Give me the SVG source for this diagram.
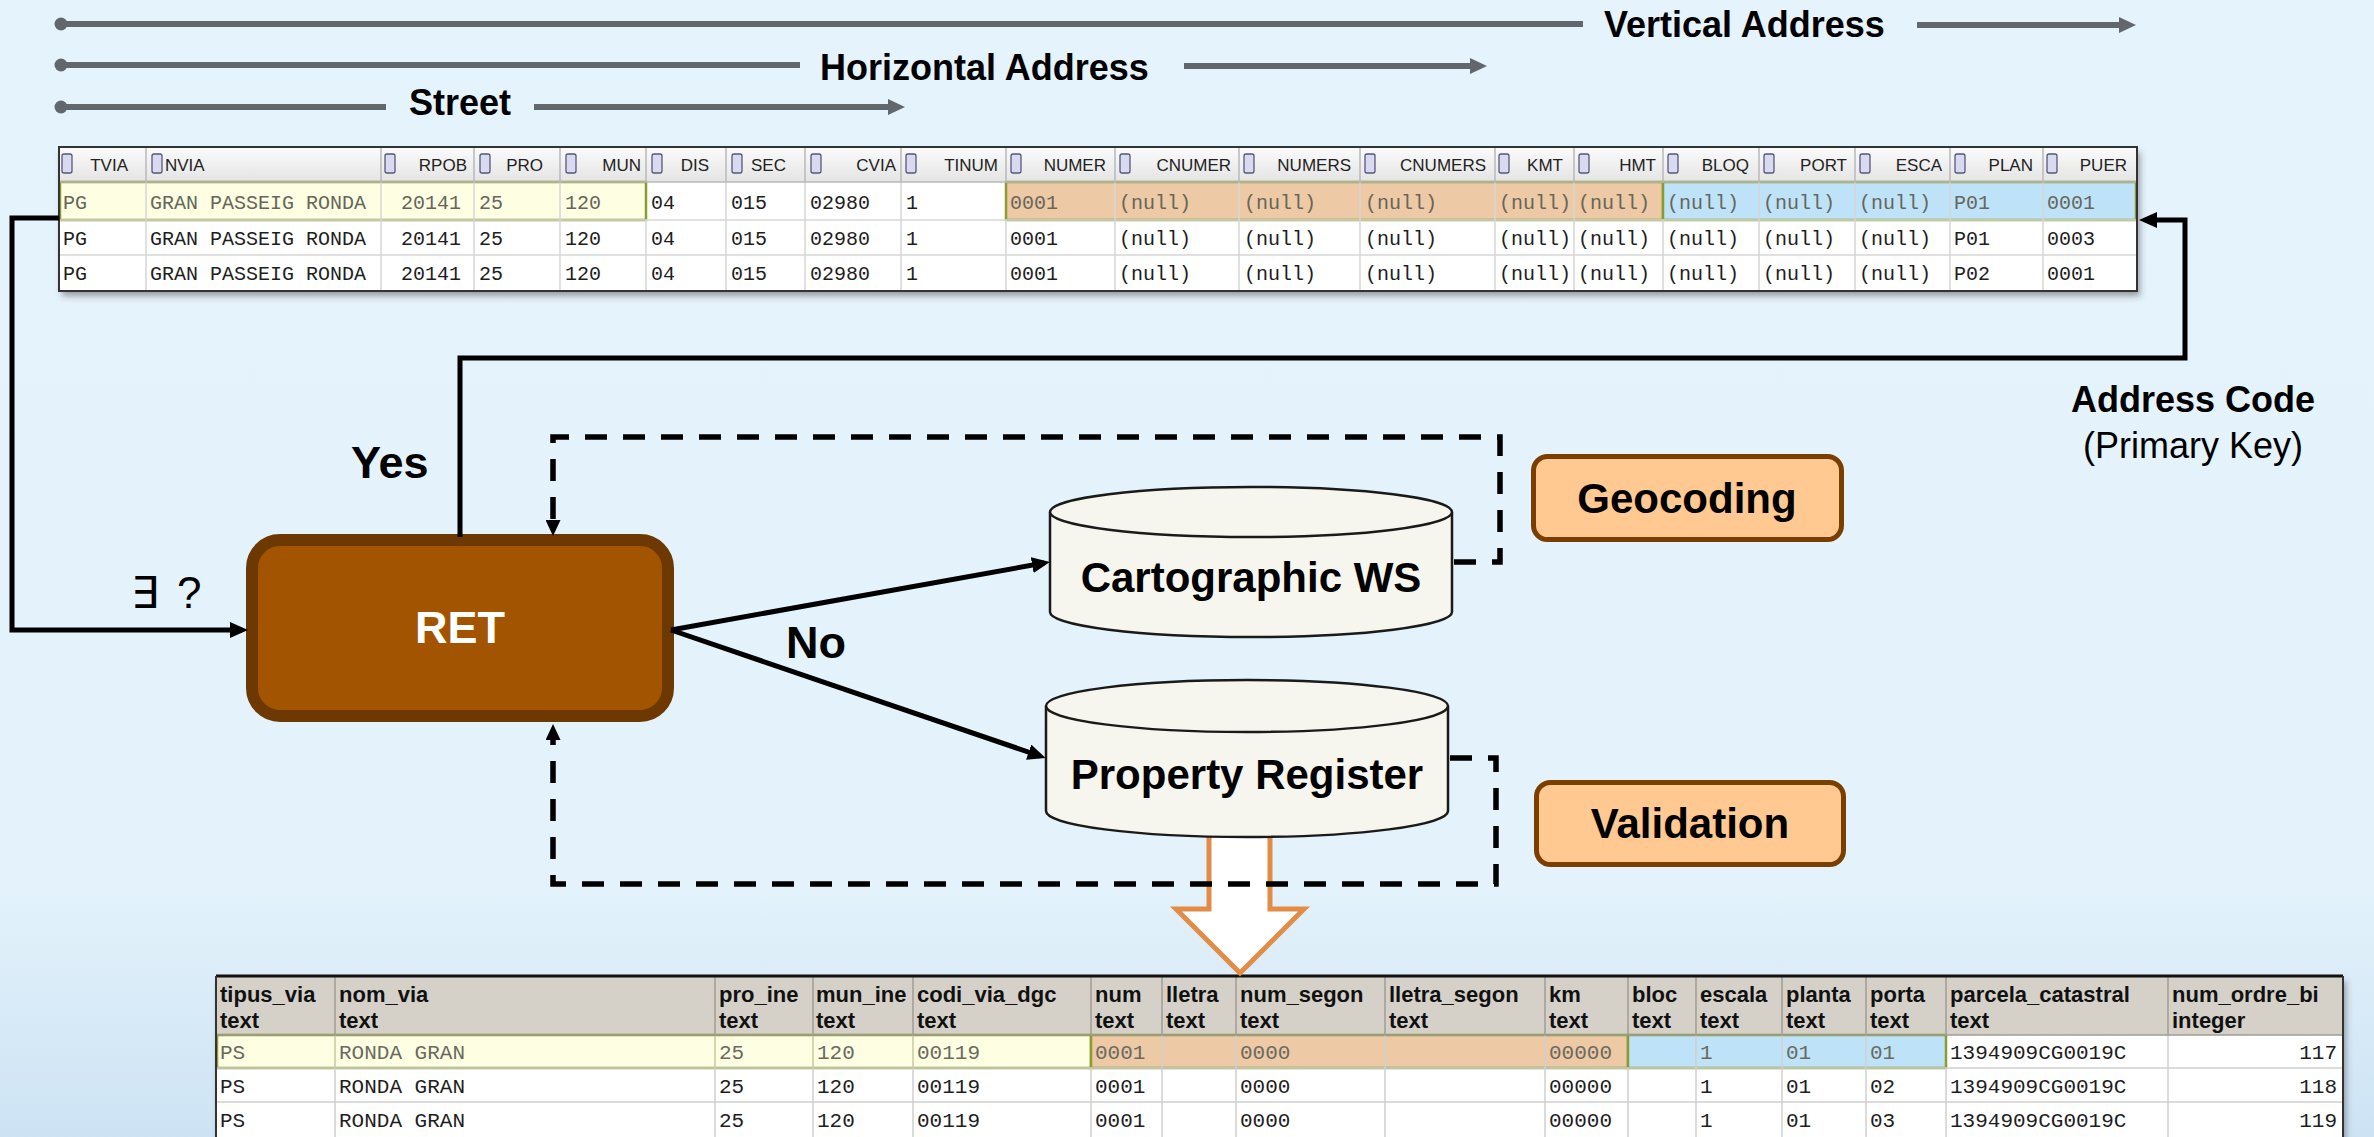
<svg xmlns="http://www.w3.org/2000/svg" width="2374" height="1137" viewBox="0 0 2374 1137">
<defs>
<linearGradient id="bg" x1="0" y1="0" x2="0" y2="1">
<stop offset="0" stop-color="#E5F3FC"/><stop offset="0.78" stop-color="#E3F2FB"/><stop offset="1" stop-color="#CDE3F4"/>
</linearGradient>
<linearGradient id="hdrTop" x1="0" y1="0" x2="0" y2="1">
<stop offset="0" stop-color="#FBFBFB"/><stop offset="1" stop-color="#E4E4E4"/>
</linearGradient>
<filter id="shadow" x="-2%" y="-10%" width="104%" height="130%">
<feDropShadow dx="3" dy="5" stdDeviation="3" flood-color="#333" flood-opacity="0.45"/>
</filter>
<marker id="ah" markerUnits="userSpaceOnUse" markerWidth="18" markerHeight="16" refX="12" refY="8" orient="auto">
<path d="M0,0 L18,8 L0,16 z" fill="#000"/>
</marker>
<marker id="ahs" markerUnits="userSpaceOnUse" markerWidth="16" markerHeight="15" refX="10" refY="7.5" orient="auto">
<path d="M0,0 L16,7.5 L0,15 z" fill="#000"/>
</marker>
<marker id="ahg" markerUnits="userSpaceOnUse" markerWidth="17" markerHeight="16" refX="6" refY="8" orient="auto">
<path d="M0,0 L17,8 L0,16 z" fill="#61676C"/>
</marker>
<style>
.lbl{font-family:"Liberation Sans",Arial,sans-serif;font-weight:bold;font-size:36px;fill:#000}
.reg{font-family:"Liberation Sans",Arial,sans-serif;font-size:36px;fill:#000}
.big{font-family:"Liberation Sans",Arial,sans-serif;font-weight:bold;font-size:45px;fill:#000}
.node{font-family:"Liberation Sans",Arial,sans-serif;font-weight:bold;font-size:42px;fill:#000;text-anchor:middle}
.ret{font-family:"Liberation Sans",Arial,sans-serif;font-weight:bold;font-size:45px;fill:#fff;text-anchor:middle}
.gl{stroke:#61676C;stroke-width:6;fill:none}
.dot{fill:#61676C}
.th{font-family:"Liberation Sans",Arial,sans-serif;font-size:17px;fill:#222;text-anchor:end}
.ico{fill:#D9D9EF;stroke:#56567C;stroke-width:1.3}
.m{font-family:"Liberation Mono","Courier New",monospace;font-size:20px;fill:#1e1e1e}
.mh{font-family:"Liberation Mono","Courier New",monospace;font-size:20px;fill:#66665a}
.bm{font-family:"Liberation Mono","Courier New",monospace;font-size:21px;fill:#1e1e1e}
.bmh{font-family:"Liberation Mono","Courier New",monospace;font-size:21px;fill:#6a6a60}
.bh{font-family:"Liberation Sans",Arial,sans-serif;font-weight:bold;font-size:22px;fill:#111}
.grid{stroke:#D6D6D6;stroke-width:1.5}
.bgrid{stroke:#CFCFCF;stroke-width:1.5}
.hsep{stroke:#B8B8B8;stroke-width:1.5}
.bhsep{stroke:#A09C94;stroke-width:1.5}
.hl{stroke:#8A9C30;stroke-width:2.5}
.solid{fill:none;stroke:#000;stroke-width:5}
.dash{fill:none;stroke:#000;stroke-width:5.5;stroke-dasharray:22 16}
.cyl{fill:#F6F6EE;stroke:#1a1a1a;stroke-width:2.5}
.task{fill:#FFC991;stroke:#7A3F00;stroke-width:5}
</style>
</defs>

<rect x="0" y="0" width="2374" height="1137" fill="url(#bg)"/>

<!-- Top range labels -->
<g id="range-vertical">
<circle class="dot" cx="61" cy="24" r="6.5"/>
<line class="gl" x1="61" y1="24" x2="1583" y2="24"/>
<text class="lbl" x="1604" y="37">Vertical Address</text>
<line class="gl" x1="1917" y1="25" x2="2125" y2="25" marker-end="url(#ahg)"/>
</g>
<g id="range-horizontal">
<circle class="dot" cx="61" cy="65" r="6.5"/>
<line class="gl" x1="61" y1="65" x2="800" y2="65"/>
<text class="lbl" x="820" y="80">Horizontal Address</text>
<line class="gl" x1="1184" y1="66" x2="1476" y2="66" marker-end="url(#ahg)"/>
</g>
<g id="range-street">
<circle class="dot" cx="61" cy="107" r="6.5"/>
<line class="gl" x1="61" y1="107" x2="386" y2="107"/>
<text class="lbl" x="409" y="115">Street</text>
<line class="gl" x1="534" y1="107" x2="894" y2="107" marker-end="url(#ahg)"/>
</g>

<!-- Top table -->
<g id="address-table">
<rect x="59" y="147" width="2078" height="144" fill="#fff" filter="url(#shadow)"/>
<rect x="59" y="147" width="2078" height="35" fill="url(#hdrTop)"/>
<rect class="hl" x="60" y="182" width="586" height="38" fill="#FEFEE2"/>
<rect class="hl" x="1006" y="182" width="657" height="38" fill="#EDC9A5"/>
<rect class="hl" x="1663" y="182" width="473" height="38" fill="#BEE3F8"/>
<g class="grid">
<line x1="59" y1="255" x2="2137" y2="255"/>
<line x1="59" y1="220" x2="2137" y2="220"/>
<line x1="146" y1="182" x2="146" y2="291"/><line x1="381" y1="182" x2="381" y2="291"/>
<line x1="474" y1="182" x2="474" y2="291"/><line x1="560" y1="182" x2="560" y2="291"/>
<line x1="646" y1="220" x2="646" y2="291"/><line x1="726" y1="182" x2="726" y2="291"/>
<line x1="805" y1="182" x2="805" y2="291"/><line x1="901" y1="182" x2="901" y2="291"/>
<line x1="1006" y1="220" x2="1006" y2="291"/><line x1="1115" y1="182" x2="1115" y2="291"/>
<line x1="1239" y1="182" x2="1239" y2="291"/><line x1="1360" y1="182" x2="1360" y2="291"/>
<line x1="1495" y1="182" x2="1495" y2="291"/><line x1="1574" y1="182" x2="1574" y2="291"/>
<line x1="1663" y1="220" x2="1663" y2="291"/><line x1="1759" y1="182" x2="1759" y2="291"/>
<line x1="1855" y1="182" x2="1855" y2="291"/><line x1="1950" y1="182" x2="1950" y2="291"/>
<line x1="2043" y1="182" x2="2043" y2="291"/>
</g>
<g class="hsep">
<line x1="146" y1="148" x2="146" y2="182"/><line x1="381" y1="148" x2="381" y2="182"/>
<line x1="474" y1="148" x2="474" y2="182"/><line x1="560" y1="148" x2="560" y2="182"/>
<line x1="646" y1="148" x2="646" y2="182"/><line x1="726" y1="148" x2="726" y2="182"/>
<line x1="805" y1="148" x2="805" y2="182"/><line x1="901" y1="148" x2="901" y2="182"/>
<line x1="1006" y1="148" x2="1006" y2="182"/><line x1="1115" y1="148" x2="1115" y2="182"/>
<line x1="1239" y1="148" x2="1239" y2="182"/><line x1="1360" y1="148" x2="1360" y2="182"/>
<line x1="1495" y1="148" x2="1495" y2="182"/><line x1="1574" y1="148" x2="1574" y2="182"/>
<line x1="1663" y1="148" x2="1663" y2="182"/><line x1="1759" y1="148" x2="1759" y2="182"/>
<line x1="1855" y1="148" x2="1855" y2="182"/><line x1="1950" y1="148" x2="1950" y2="182"/>
<line x1="2043" y1="148" x2="2043" y2="182"/>
<line x1="59" y1="182" x2="2137" y2="182"/>
</g>
<g>
<rect class="ico" x="62" y="154" width="10" height="19" rx="2"/><rect class="ico" x="152" y="154" width="10" height="19" rx="2"/>
<rect class="ico" x="385" y="154" width="10" height="19" rx="2"/><rect class="ico" x="480" y="154" width="10" height="19" rx="2"/>
<rect class="ico" x="566" y="154" width="10" height="19" rx="2"/><rect class="ico" x="652" y="154" width="10" height="19" rx="2"/>
<rect class="ico" x="732" y="154" width="10" height="19" rx="2"/><rect class="ico" x="811" y="154" width="10" height="19" rx="2"/>
<rect class="ico" x="906" y="154" width="10" height="19" rx="2"/><rect class="ico" x="1011" y="154" width="10" height="19" rx="2"/>
<rect class="ico" x="1120" y="154" width="10" height="19" rx="2"/><rect class="ico" x="1244" y="154" width="10" height="19" rx="2"/>
<rect class="ico" x="1365" y="154" width="10" height="19" rx="2"/><rect class="ico" x="1499" y="154" width="10" height="19" rx="2"/>
<rect class="ico" x="1579" y="154" width="10" height="19" rx="2"/><rect class="ico" x="1668" y="154" width="10" height="19" rx="2"/>
<rect class="ico" x="1764" y="154" width="10" height="19" rx="2"/><rect class="ico" x="1860" y="154" width="10" height="19" rx="2"/>
<rect class="ico" x="1955" y="154" width="10" height="19" rx="2"/><rect class="ico" x="2047" y="154" width="10" height="19" rx="2"/>
</g>
<g>
<text class="th" x="128" y="171">TVIA</text>
<text class="th" x="165" y="171" style="text-anchor:start">NVIA</text>
<text class="th" x="467" y="171">RPOB</text>
<text class="th" x="543" y="171">PRO</text>
<text class="th" x="641" y="171">MUN</text>
<text class="th" x="709" y="171">DIS</text>
<text class="th" x="786" y="171">SEC</text>
<text class="th" x="896" y="171">CVIA</text>
<text class="th" x="998" y="171">TINUM</text>
<text class="th" x="1106" y="171">NUMER</text>
<text class="th" x="1231" y="171">CNUMER</text>
<text class="th" x="1351" y="171">NUMERS</text>
<text class="th" x="1486" y="171">CNUMERS</text>
<text class="th" x="1563" y="171">KMT</text>
<text class="th" x="1656" y="171">HMT</text>
<text class="th" x="1749" y="171">BLOQ</text>
<text class="th" x="1847" y="171">PORT</text>
<text class="th" x="1942" y="171">ESCA</text>
<text class="th" x="2033" y="171">PLAN</text>
<text class="th" x="2127" y="171">PUER</text>
</g>
<g>
<text class="mh" x="63" y="209">PG</text>
<text class="mh" x="150" y="209">GRAN PASSEIG RONDA</text>
<text class="mh" x="461" y="209" text-anchor="end">20141</text>
<text class="mh" x="479" y="209">25</text>
<text class="mh" x="565" y="209">120</text>
<text class="m" x="651" y="209">04</text>
<text class="m" x="731" y="209">015</text>
<text class="m" x="810" y="209">02980</text>
<text class="m" x="906" y="209">1</text>
<text class="mh" x="1010" y="209">0001</text>
<text class="mh" x="1119" y="209">(null)</text>
<text class="mh" x="1244" y="209">(null)</text>
<text class="mh" x="1365" y="209">(null)</text>
<text class="mh" x="1499" y="209">(null)</text>
<text class="mh" x="1578" y="209">(null)</text>
<text class="mh" x="1667" y="209">(null)</text>
<text class="mh" x="1763" y="209">(null)</text>
<text class="mh" x="1859" y="209">(null)</text>
<text class="mh" x="1954" y="209">P01</text>
<text class="mh" x="2047" y="209">0001</text>
</g>
<g>
<text class="m" x="63" y="245">PG</text>
<text class="m" x="150" y="245">GRAN PASSEIG RONDA</text>
<text class="m" x="461" y="245" text-anchor="end">20141</text>
<text class="m" x="479" y="245">25</text>
<text class="m" x="565" y="245">120</text>
<text class="m" x="651" y="245">04</text>
<text class="m" x="731" y="245">015</text>
<text class="m" x="810" y="245">02980</text>
<text class="m" x="906" y="245">1</text>
<text class="m" x="1010" y="245">0001</text>
<text class="m" x="1119" y="245">(null)</text>
<text class="m" x="1244" y="245">(null)</text>
<text class="m" x="1365" y="245">(null)</text>
<text class="m" x="1499" y="245">(null)</text>
<text class="m" x="1578" y="245">(null)</text>
<text class="m" x="1667" y="245">(null)</text>
<text class="m" x="1763" y="245">(null)</text>
<text class="m" x="1859" y="245">(null)</text>
<text class="m" x="1954" y="245">P01</text>
<text class="m" x="2047" y="245">0003</text>
</g>
<g>
<text class="m" x="63" y="280">PG</text>
<text class="m" x="150" y="280">GRAN PASSEIG RONDA</text>
<text class="m" x="461" y="280" text-anchor="end">20141</text>
<text class="m" x="479" y="280">25</text>
<text class="m" x="565" y="280">120</text>
<text class="m" x="651" y="280">04</text>
<text class="m" x="731" y="280">015</text>
<text class="m" x="810" y="280">02980</text>
<text class="m" x="906" y="280">1</text>
<text class="m" x="1010" y="280">0001</text>
<text class="m" x="1119" y="280">(null)</text>
<text class="m" x="1244" y="280">(null)</text>
<text class="m" x="1365" y="280">(null)</text>
<text class="m" x="1499" y="280">(null)</text>
<text class="m" x="1578" y="280">(null)</text>
<text class="m" x="1667" y="280">(null)</text>
<text class="m" x="1763" y="280">(null)</text>
<text class="m" x="1859" y="280">(null)</text>
<text class="m" x="1954" y="280">P02</text>
<text class="m" x="2047" y="280">0001</text>
</g>
<rect x="59" y="147" width="2078" height="144" fill="none" stroke="#333" stroke-width="2"/>
</g>

<!-- Bottom table -->
<g id="cadastre-table">
<rect x="216" y="976" width="2127" height="170" fill="#fff" filter="url(#shadow)"/>
<rect x="216" y="976" width="2127" height="59" fill="#D5D1C9"/>
<rect class="hl" x="217" y="1035" width="874" height="33" fill="#FEFEE2"/>
<rect class="hl" x="1091" y="1035" width="537" height="33" fill="#EDC9A5"/>
<rect class="hl" x="1628" y="1035" width="318" height="33" fill="#BEE3F8"/>
<g class="bgrid">
<line x1="216" y1="1068" x2="2343" y2="1068"/><line x1="216" y1="1102" x2="2343" y2="1102"/>
<line x1="335" y1="1068" x2="335" y2="1137"/><line x1="715" y1="1068" x2="715" y2="1137"/>
<line x1="813" y1="1068" x2="813" y2="1137"/><line x1="913" y1="1068" x2="913" y2="1137"/>
<line x1="1091" y1="1068" x2="1091" y2="1137"/><line x1="1162" y1="1035" x2="1162" y2="1137"/>
<line x1="1236" y1="1035" x2="1236" y2="1137"/><line x1="1385" y1="1035" x2="1385" y2="1137"/>
<line x1="1545" y1="1035" x2="1545" y2="1137"/><line x1="1628" y1="1068" x2="1628" y2="1137"/>
<line x1="1696" y1="1035" x2="1696" y2="1137"/><line x1="1782" y1="1035" x2="1782" y2="1137"/>
<line x1="1866" y1="1035" x2="1866" y2="1137"/><line x1="1946" y1="1068" x2="1946" y2="1137"/>
<line x1="2168" y1="1035" x2="2168" y2="1137"/>
<line x1="335" y1="1035" x2="335" y2="1068" stroke="#C9C9A0"/><line x1="715" y1="1035" x2="715" y2="1068" stroke="#C9C9A0"/>
<line x1="813" y1="1035" x2="813" y2="1068" stroke="#C9C9A0"/><line x1="913" y1="1035" x2="913" y2="1068" stroke="#C9C9A0"/>
</g>
<g class="bhsep">
<line x1="335" y1="977" x2="335" y2="1035"/><line x1="715" y1="977" x2="715" y2="1035"/>
<line x1="813" y1="977" x2="813" y2="1035"/><line x1="913" y1="977" x2="913" y2="1035"/>
<line x1="1091" y1="977" x2="1091" y2="1035"/><line x1="1162" y1="977" x2="1162" y2="1035"/>
<line x1="1236" y1="977" x2="1236" y2="1035"/><line x1="1385" y1="977" x2="1385" y2="1035"/>
<line x1="1545" y1="977" x2="1545" y2="1035"/><line x1="1628" y1="977" x2="1628" y2="1035"/>
<line x1="1696" y1="977" x2="1696" y2="1035"/><line x1="1782" y1="977" x2="1782" y2="1035"/>
<line x1="1866" y1="977" x2="1866" y2="1035"/><line x1="1946" y1="977" x2="1946" y2="1035"/>
<line x1="2168" y1="977" x2="2168" y2="1035"/>
<line x1="216" y1="1035" x2="2343" y2="1035"/>
</g>
<g>
<text class="bh" x="220" y="1002">tipus_via</text><text class="bh" x="220" y="1028">text</text>
<text class="bh" x="339" y="1002">nom_via</text><text class="bh" x="339" y="1028">text</text>
<text class="bh" x="719" y="1002">pro_ine</text><text class="bh" x="719" y="1028">text</text>
<text class="bh" x="816" y="1002">mun_ine</text><text class="bh" x="816" y="1028">text</text>
<text class="bh" x="917" y="1002">codi_via_dgc</text><text class="bh" x="917" y="1028">text</text>
<text class="bh" x="1095" y="1002">num</text><text class="bh" x="1095" y="1028">text</text>
<text class="bh" x="1166" y="1002">lletra</text><text class="bh" x="1166" y="1028">text</text>
<text class="bh" x="1240" y="1002">num_segon</text><text class="bh" x="1240" y="1028">text</text>
<text class="bh" x="1389" y="1002">lletra_segon</text><text class="bh" x="1389" y="1028">text</text>
<text class="bh" x="1549" y="1002">km</text><text class="bh" x="1549" y="1028">text</text>
<text class="bh" x="1632" y="1002">bloc</text><text class="bh" x="1632" y="1028">text</text>
<text class="bh" x="1700" y="1002">escala</text><text class="bh" x="1700" y="1028">text</text>
<text class="bh" x="1786" y="1002">planta</text><text class="bh" x="1786" y="1028">text</text>
<text class="bh" x="1870" y="1002">porta</text><text class="bh" x="1870" y="1028">text</text>
<text class="bh" x="1950" y="1002">parcela_catastral</text><text class="bh" x="1950" y="1028">text</text>
<text class="bh" x="2172" y="1002">num_ordre_bi</text><text class="bh" x="2172" y="1028">integer</text>
</g>
<g>
<text class="bmh" x="220" y="1059">PS</text>
<text class="bmh" x="339" y="1059">RONDA GRAN</text>
<text class="bmh" x="719" y="1059">25</text>
<text class="bmh" x="817" y="1059">120</text>
<text class="bmh" x="917" y="1059">00119</text>
<text class="bmh" x="1095" y="1059">0001</text>
<text class="bmh" x="1240" y="1059">0000</text>
<text class="bmh" x="1549" y="1059">00000</text>
<text class="bmh" x="1700" y="1059">1</text>
<text class="bmh" x="1786" y="1059">01</text>
<text class="bmh" x="1870" y="1059">01</text>
<text class="bm" x="1950" y="1059">1394909CG0019C</text>
<text class="bm" x="2337" y="1059" text-anchor="end">117</text>
</g>
<g>
<text class="bm" x="220" y="1093">PS</text>
<text class="bm" x="339" y="1093">RONDA GRAN</text>
<text class="bm" x="719" y="1093">25</text>
<text class="bm" x="817" y="1093">120</text>
<text class="bm" x="917" y="1093">00119</text>
<text class="bm" x="1095" y="1093">0001</text>
<text class="bm" x="1240" y="1093">0000</text>
<text class="bm" x="1549" y="1093">00000</text>
<text class="bm" x="1700" y="1093">1</text>
<text class="bm" x="1786" y="1093">01</text>
<text class="bm" x="1870" y="1093">02</text>
<text class="bm" x="1950" y="1093">1394909CG0019C</text>
<text class="bm" x="2337" y="1093" text-anchor="end">118</text>
</g>
<g>
<text class="bm" x="220" y="1127">PS</text>
<text class="bm" x="339" y="1127">RONDA GRAN</text>
<text class="bm" x="719" y="1127">25</text>
<text class="bm" x="817" y="1127">120</text>
<text class="bm" x="917" y="1127">00119</text>
<text class="bm" x="1095" y="1127">0001</text>
<text class="bm" x="1240" y="1127">0000</text>
<text class="bm" x="1549" y="1127">00000</text>
<text class="bm" x="1700" y="1127">1</text>
<text class="bm" x="1786" y="1127">01</text>
<text class="bm" x="1870" y="1127">03</text>
<text class="bm" x="1950" y="1127">1394909CG0019C</text>
<text class="bm" x="2337" y="1127" text-anchor="end">119</text>
</g>
<line x1="216" y1="976" x2="2343" y2="976" stroke="#111" stroke-width="3"/>
<line x1="216" y1="976" x2="216" y2="1137" stroke="#333" stroke-width="2"/>
<line x1="2343" y1="976" x2="2343" y2="1137" stroke="#333" stroke-width="2"/>
</g>

<!-- transfer arrow -->
<g id="transfer-arrow">
<polygon points="1209,830 1209,909 1176,909 1240,973 1304,909 1270,909 1270,830" fill="#fff" stroke="#E38C45" stroke-width="5" stroke-linejoin="miter"/>
</g>

<!-- Nodes -->
<g id="ret">
<rect x="252" y="540" width="416" height="176" rx="28" fill="#A35400" stroke="#6E3900" stroke-width="12"/>
<text class="ret" x="460" y="643">RET</text>
</g>
<g id="cartographic-ws">
<path class="cyl" d="M1050,512 V612 A201,25 0 0 0 1452,612 V512"/>
<ellipse class="cyl" cx="1251" cy="512" rx="201" ry="25"/>
<text class="node" x="1251" y="592">Cartographic WS</text>
</g>
<g id="property-register">
<path class="cyl" d="M1046,706 V811 A201,26 0 0 0 1448,811 V706"/>
<ellipse class="cyl" cx="1247" cy="706" rx="201" ry="26"/>
<text class="node" x="1247" y="789">Property Register</text>
</g>
<g id="geocoding">
<rect class="task" x="1533.5" y="456.5" width="308" height="83" rx="14"/>
<text class="node" x="1687" y="513">Geocoding</text>
</g>
<g id="validation">
<rect class="task" x="1536.5" y="782.5" width="307" height="82" rx="14"/>
<text class="node" x="1690" y="838">Validation</text>
</g>

<!-- Connectors -->
<g id="connectors">
<path class="solid" d="M59,218 H12 V630 H242" marker-end="url(#ah)"/>
<path class="solid" d="M460,537 V358 H2185 V220 H2145" marker-end="url(#ah)"/>
<path class="solid" d="M671,630 L1044,563" marker-end="url(#ah)"/>
<path class="solid" d="M671,630 L1040,756" marker-end="url(#ah)"/>
<path class="dash" d="M1454,562 H1500 V437 H553 V530" marker-end="url(#ahs)"/>
<path class="dash" d="M1450,758 H1496 V884 H553 V730" marker-end="url(#ahs)"/>
</g>

<!-- Labels -->
<g id="labels">
<text class="big" x="351" y="478">Yes</text>
<text class="big" x="786" y="658">No</text>
<text x="131" y="608" font-family="Liberation Sans, DejaVu Sans, sans-serif" font-size="44" fill="#000">∃<tspan dx="6"> ?</tspan></text>
<text class="lbl" x="2193" y="412" text-anchor="middle">Address Code</text>
<text class="reg" x="2193" y="458" text-anchor="middle">(Primary Key)</text>
</g>
</svg>
